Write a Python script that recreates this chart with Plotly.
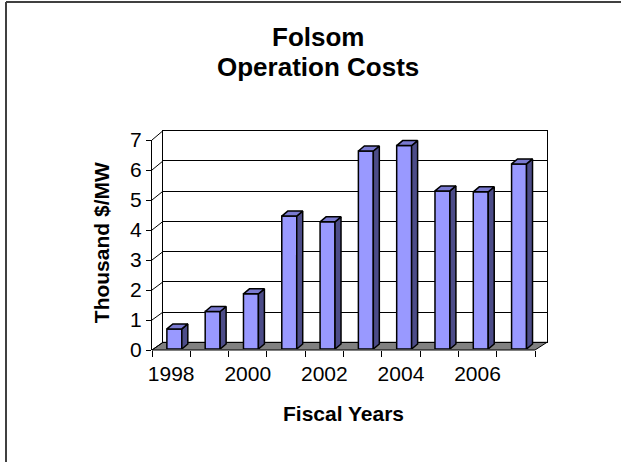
import plotly.graph_objects as go

# ---- data ----
years = [1998, 1999, 2000, 2001, 2002, 2003, 2004, 2005, 2006, 2007]
costs = [0.67, 1.25, 1.84, 4.43, 4.24, 6.60, 6.78, 5.27, 5.24, 6.17]
label_years = [1998, 2000, 2002, 2004, 2006]
y_ticks = [0, 1, 2, 3, 4, 5, 6, 7]

title_line1 = "Folsom"
title_line2 = "Operation Costs"
y_title = "Thousand $/MW"
x_title = "Fiscal Years"

# ---- geometry (pixels) ----
W, H = 621, 462
L, R, T, B = 152, 74, 130, 112
PW, PH = W - L - R, H - T - B


def px(xp):
    return (xp - L) / PW


def py(yp):
    return (H - B - yp) / PH


FONT = "Liberation Sans, Arial, sans-serif"
front_x = [px(152), px(535)]
front_y = [py(350), py(140)]
back_x = [px(163), px(547)]
back_y = [py(342.3), py(130.7)]
bar_x = [px(152 + 3.2), px(535 + 3.2)]
bar_y = [py(349), py(139)]

xr = [years[0] - 0.5, years[-1] + 0.5]
yr = [0, 7]

bar_w = 0.39
dx = 6.0 / (383 / 10)   # depth offset in years
dy = 5.0 / 30.0         # depth offset in value units

front_col = "#9999FF"
side_col = "#4C4C88"
top_col = "#7A7AD0"

fig = go.Figure()

# front faces of bars
fig.add_trace(go.Bar(
    x=years, y=costs, width=bar_w,
    marker=dict(color=front_col, line=dict(color="black", width=1.5)),
    xaxis="x3", yaxis="y3", hoverinfo="skip", showlegend=False,
))

# side and top faces derived from the data
for yv, v in zip(years, costs):
    xl = yv - bar_w / 2
    xrr = yv + bar_w / 2
    fig.add_trace(go.Scatter(
        x=[xrr, xrr + dx, xrr + dx, xrr, xrr],
        y=[0, dy, v + dy, v, 0],
        fill="toself", fillcolor=side_col, mode="lines",
        line=dict(color="black", width=1.5),
        xaxis="x3", yaxis="y3", hoverinfo="skip", showlegend=False,
    ))
    fig.add_trace(go.Scatter(
        x=[xl, xl + dx, xrr + dx, xrr, xl],
        y=[v, v + dy, v + dy, v, v],
        fill="toself", fillcolor=top_col, mode="lines",
        line=dict(color="black", width=1.5),
        xaxis="x3", yaxis="y3", hoverinfo="skip", showlegend=False,
    ))

# invisible trace to activate front axes
fig.add_trace(go.Scatter(x=[years[0]], y=[0], mode="markers",
                         marker=dict(opacity=0), xaxis="x2", yaxis="y2",
                         hoverinfo="skip", showlegend=False))
# invisible trace to activate back wall axes
fig.add_trace(go.Scatter(x=[years[0]], y=[0], mode="markers",
                         marker=dict(opacity=0), xaxis="x", yaxis="y",
                         hoverinfo="skip", showlegend=False))

shapes = []
# floor
fx0, fx1 = front_x
fy0 = front_y[0]
bx0, bx1 = back_x
by0 = back_y[0]
shapes.append(dict(
    type="path", xref="paper", yref="paper",
    path=f"M {fx0},{fy0} L {fx1},{fy0} L {bx1},{by0} L {bx0},{by0} Z",
    fillcolor="#808080", line=dict(color="black", width=1), layer="below",
))
# left wall edge lines connecting front ticks to back grid
for k in y_ticks:
    f = (k - yr[0]) / (yr[1] - yr[0])
    shapes.append(dict(
        type="line", xref="paper", yref="paper",
        x0=front_x[0], y0=front_y[0] + f * (front_y[1] - front_y[0]),
        x1=back_x[0], y1=back_y[0] + f * (back_y[1] - back_y[0]),
        line=dict(color="black", width=1), layer="below",
    ))
# outer border (top and left edges visible)
shapes.append(dict(type="line", xref="paper", yref="paper",
                   x0=px(6), x1=px(W + 10), y0=py(2), y1=py(2),
                   line=dict(color="#404040", width=2)))
shapes.append(dict(type="line", xref="paper", yref="paper",
                   x0=px(6), x1=px(6), y0=py(2), y1=py(H + 10),
                   line=dict(color="#404040", width=2)))

annotations = [
    dict(text=f"<b>{title_line1}</b>", x=px(317.5), y=py(37.2),
         xref="paper", yref="paper", showarrow=False,
         xanchor="center", yanchor="middle",
         font=dict(family=FONT, size=26, color="black")),
    dict(text=f"<b>{title_line2}</b>", x=px(318), y=py(67.5),
         xref="paper", yref="paper", showarrow=False,
         xanchor="center", yanchor="middle",
         font=dict(family=FONT, size=26, color="black")),
    dict(text=f"<b>{y_title}</b>", x=px(101.7), y=py(242.5),
         xref="paper", yref="paper", showarrow=False, textangle=-90,
         xanchor="center", yanchor="middle",
         font=dict(family=FONT, size=21, color="black")),
    dict(text=f"<b>{x_title}</b>", x=px(343), y=py(413.5),
         xref="paper", yref="paper", showarrow=False,
         xanchor="center", yanchor="middle",
         font=dict(family=FONT, size=21, color="black")),
]

fig.update_layout(
    width=W, height=H,
    margin=dict(l=L, r=R, t=T, b=B, pad=0),
    paper_bgcolor="white", plot_bgcolor="rgba(0,0,0,0)",
    showlegend=False,
    shapes=shapes, annotations=annotations,
    font=dict(family=FONT, color="black"),
    # back wall
    xaxis=dict(domain=back_x, range=xr, showgrid=False, zeroline=False,
               showticklabels=False, ticks="", showline=True, mirror=True,
               linecolor="black", linewidth=1, fixedrange=True),
    yaxis=dict(domain=back_y, range=yr, showgrid=True, gridcolor="black",
               gridwidth=1, dtick=1, zeroline=False, showticklabels=False,
               ticks="", showline=True, mirror=True, linecolor="black",
               linewidth=1, fixedrange=True),
    # front axes
    xaxis2=dict(domain=front_x, range=xr, anchor="y2", showgrid=False,
                zeroline=False, tickmode="array", tickvals=label_years,
                ticktext=[str(v) for v in label_years], ticks="outside",
                ticklen=0, tickcolor="black",
                minor=dict(tickmode="array",
                           tickvals=[v - 0.5 for v in years] + [years[-1] + 0.5],
                           ticks="outside", ticklen=6, tickcolor="black",
                           tickwidth=1, showgrid=False),
                tickfont=dict(family=FONT, size=21, color="black"),
                ticklabelstandoff=5,
                showline=False, fixedrange=True),
    yaxis2=dict(domain=front_y, range=yr, anchor="x2", showgrid=False,
                zeroline=False, tickmode="array", tickvals=y_ticks,
                ticks="outside", ticklen=5, tickcolor="black",
                tickfont=dict(family=FONT, size=21, color="black"),
                showline=True, linecolor="black", linewidth=1,
                fixedrange=True),
    # bars
    xaxis3=dict(domain=bar_x, range=xr, anchor="y3", visible=False,
                fixedrange=True),
    yaxis3=dict(domain=bar_y, range=yr, anchor="x3", visible=False,
                fixedrange=True),
)

fig.write_html("out.html", config={"displayModeBar": False},
               post_script="document.body.style.margin='0';"
                           "document.body.style.overflow='hidden';"
                           "document.documentElement.style.overflow='hidden';")
